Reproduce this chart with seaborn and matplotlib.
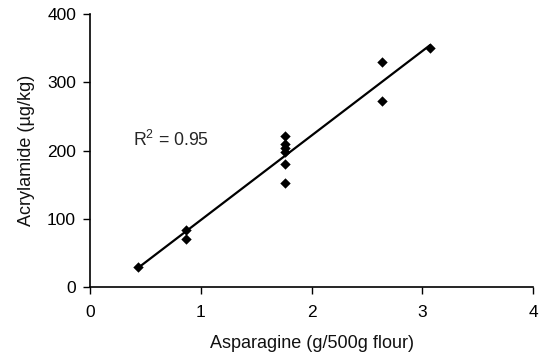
import numpy as np
import pandas as pd
import matplotlib
matplotlib.use("Agg")
import matplotlib.pyplot as plt
import seaborn as sns

asparagine = [0.43, 0.87, 0.87, 1.76, 1.76, 1.76, 1.76, 1.76, 1.76, 2.64, 2.64, 3.07]
acrylamide = [30, 84, 70, 222, 210, 204, 198, 180, 152, 329, 273, 350]
r2_label = "R$^2$ = 0.95"

sns.set_theme(style="ticks")
plt.rcParams['font.family'] = ['Liberation Sans', 'DejaVu Sans']
plt.rcParams['mathtext.fontset'] = 'custom'
plt.rcParams['mathtext.rm'] = 'Liberation Sans'

df = pd.DataFrame({"x": asparagine, "y": acrylamide})

fig = plt.figure(figsize=(5.39, 3.58), dpi=100)
ax = fig.add_axes([0.167, 0.198, 0.822, 0.763])

sns.regplot(data=df, x="x", y="y", ax=ax, ci=None, truncate=True,
            marker="D", color="black",
            scatter_kws={"s": 28, "linewidths": 0, "alpha": 1},
            line_kws={"linewidth": 1.6})

ax.set_xlim(0, 4)
ax.set_ylim(0, 400)
ax.set_xticks([0, 1, 2, 3, 4])
ax.set_yticks([0, 100, 200, 300, 400])
ax.set_xlabel("Asparagine (g/500g flour)", fontsize=13, color="#111111", labelpad=11)
ax.set_ylabel("Acrylamide (\u00b5g/kg)", fontsize=13, color="#111111", labelpad=9)
ax.tick_params(axis="both", labelsize=12.5, length=5, width=1, colors="black", direction="out")
ax.tick_params(axis="x", pad=8)
ax.tick_params(axis="y", pad=5)
for s in ["top", "right"]:
    ax.spines[s].set_visible(False)
for s in ["left", "bottom"]:
    ax.spines[s].set_linewidth(1.2)
    ax.spines[s].set_color("black")

ax.text(0.39, 215, r2_label, fontsize=12.7, va="center", ha="left")

fig.savefig("out.png", dpi=100)
